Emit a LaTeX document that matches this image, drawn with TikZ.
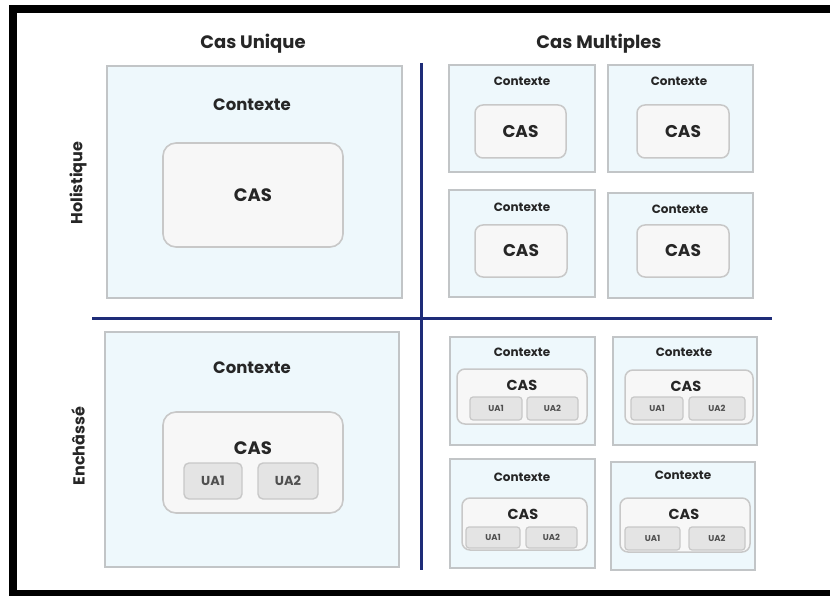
\documentclass[tikz,border=0pt]{standalone}
\usepackage{fontspec}
\setmainfont{Poppins}
\definecolor{ctxfill}{HTML}{EEF8FC}
\definecolor{ctxline}{HTML}{C2C5C7}
\definecolor{casfill}{HTML}{F7F7F7}
\definecolor{casline}{HTML}{C8C8C8}
\definecolor{uafill}{HTML}{E4E4E4}
\definecolor{uatext}{HTML}{505050}
\definecolor{navy}{HTML}{1E2C78}
\definecolor{txt}{HTML}{262626}
\tikzset{
  ctx/.style={draw=ctxline, fill=ctxfill, line width=2pt, rectangle, inner sep=0pt},
  casbox/.style={draw=casline, fill=casfill, line width=1.6pt, rectangle, rounded corners=13pt, inner sep=0pt},
  cassm/.style={draw=casline, fill=casfill, line width=1.5pt, rectangle, rounded corners=8pt, inner sep=0pt},
  uabox/.style={draw=casline, fill=uafill, line width=1.4pt, rectangle, rounded corners=5pt, inner sep=0pt},
  uasm/.style={draw=casline, fill=uafill, line width=1.2pt, rectangle, rounded corners=3pt, inner sep=0pt},
  hdr/.style={font=\fontsize{18}{18}\selectfont\bfseries, text=txt},
  side/.style={font=\fontsize{16}{16}\selectfont\bfseries, text=txt, rotate=90},
  ctxbig/.style={font=\fontsize{16.5}{16.5}\selectfont\bfseries, text=txt},
  ctxsm/.style={font=\fontsize{12}{12}\selectfont\bfseries, text=txt},
  casbig/.style={font=\fontsize{18}{18}\selectfont\bfseries, text=txt},
  cassmt/.style={font=\fontsize{17}{17}\selectfont\bfseries, text=txt},
  casemb/.style={font=\fontsize{14.5}{14.5}\selectfont\bfseries, text=txt},
  uabig/.style={font=\fontsize{13}{13}\selectfont\bfseries, text=uatext},
  uasmt/.style={font=\fontsize{8.5}{8.5}\selectfont\bfseries, text=uatext},
  axis/.style={draw=navy, line width=3pt},
}
\begin{document}
\begin{tikzpicture}[x=1pt, y=-1pt]
\useasboundingbox (0,0) rectangle (830,596);
\fill[white] (0,0) rectangle (830,596);
% black frame
\fill[black] (9,5) rectangle (830,13);
\fill[black] (9,5) rectangle (17,596);
\fill[black] (9,590) rectangle (830,596);

% headers
\node[hdr] (hu) at (253,44) {Cas Unique};
\node[hdr] (hm) at (599,44) {Cas Multiples};
\node[side] (sh) at (78,183) {Holistique};
\node[side] (se) at (78,446) {Enchâssé};

% axes
\coordinate (vt) at (421,63);
\coordinate (vb) at (421,570);
\coordinate (hl) at (92,318);
\coordinate (hr) at (772,318);
\draw[axis] (vt) -- (vb);
\draw[axis] (hl) -- (hr);

% ---- Holistique, cas unique
\node[ctx, minimum width=295, minimum height=232] (c0) at (254.5,182) {};
\node[ctxbig] (c0t) at (252,105) {Contexte};
\node[casbox, minimum width=180, minimum height=104] (k0) at (253,195) {};
\node[casbig] (k0t) at (253,195) {CAS};

% ---- Holistique, cas multiples
\node[ctx, minimum width=146, minimum height=107] (c1) at (522,118.5) {};
\node[ctxsm] (c1t) at (522,81) {Contexte};
\node[cassm, minimum width=91, minimum height=53] (k1) at (520.5,131.5) {};
\node[cassmt] (k1t) at (520.5,131.5) {CAS};

\node[ctx, minimum width=145, minimum height=107] (c2) at (680.5,118.5) {};
\node[ctxsm] (c2t) at (679,81) {Contexte};
\node[cassm, minimum width=92, minimum height=53] (k2) at (683,131.5) {};
\node[cassmt] (k2t) at (683,131.5) {CAS};

\node[ctx, minimum width=146, minimum height=107] (c3) at (522,243.5) {};
\node[ctxsm] (c3t) at (522,207) {Contexte};
\node[cassm, minimum width=92, minimum height=52] (k3) at (521,251) {};
\node[cassmt] (k3t) at (521,251) {CAS};

\node[ctx, minimum width=145, minimum height=105] (c4) at (680.5,245.5) {};
\node[ctxsm] (c4t) at (680,209) {Contexte};
\node[cassm, minimum width=92, minimum height=52] (k4) at (683,251) {};
\node[cassmt] (k4t) at (683,251) {CAS};

% ---- Enchâssé, cas unique
\node[ctx, minimum width=294, minimum height=235] (c5) at (252,449.5) {};
\node[ctxbig] (c5t) at (252,368) {Contexte};
\node[casbox, minimum width=180, minimum height=101] (k5) at (253,462.5) {};
\node[casbig] (k5t) at (253,448) {CAS};
\node[uabox, minimum width=58, minimum height=36] (u51) at (213,481) {};
\node[uabig] at (u51) {UA1};
\node[uabox, minimum width=60, minimum height=36] (u52) at (288,481) {};
\node[uabig] at (u52) {UA2};

% ---- Enchâssé, cas multiples
\node[ctx, minimum width=145, minimum height=108] (c6) at (522.5,391) {};
\node[ctxsm] (c6t) at (522,352) {Contexte};
\node[cassm, minimum width=130, minimum height=55] (k6) at (522,396.5) {};
\node[casemb] (k6t) at (522,385) {CAS};
\node[uasm, minimum width=52, minimum height=23] (u61) at (496,408.5) {};
\node[uasmt] at (u61) {UA1};
\node[uasm, minimum width=51, minimum height=23] (u62) at (552.5,408.5) {};
\node[uasmt] at (u62) {UA2};

\node[ctx, minimum width=144, minimum height=108] (c7) at (685,391) {};
\node[ctxsm] (c7t) at (684,352) {Contexte};
\node[cassm, minimum width=128, minimum height=54] (k7) at (689,397) {};
\node[casemb] (k7t) at (686,386) {CAS};
\node[uasm, minimum width=52, minimum height=23] (u71) at (657,408.5) {};
\node[uasmt] at (u71) {UA1};
\node[uasm, minimum width=56, minimum height=23] (u72) at (717,408.5) {};
\node[uasmt] at (u72) {UA2};

\node[ctx, minimum width=145, minimum height=109] (c8) at (522.5,513.5) {};
\node[ctxsm] (c8t) at (522,477) {Contexte};
\node[cassm, minimum width=125, minimum height=52] (k8) at (524.5,524) {};
\node[casemb] (k8t) at (523,514) {CAS};
\node[uasm, minimum width=54, minimum height=21] (u81) at (493,537.5) {};
\node[uasmt] at (u81) {UA1};
\node[uasm, minimum width=51, minimum height=21] (u82) at (551.5,537.5) {};
\node[uasmt] at (u82) {UA2};

\node[ctx, minimum width=144, minimum height=108] (c9) at (683,516) {};
\node[ctxsm] (c9t) at (683,475) {Contexte};
\node[cassm, minimum width=130, minimum height=54] (k9) at (685,525) {};
\node[casemb] (k9t) at (684,514) {CAS};
\node[uasm, minimum width=55, minimum height=23] (u91) at (652.5,538.5) {};
\node[uasmt] at (u91) {UA1};
\node[uasm, minimum width=56, minimum height=23] (u92) at (717,538.5) {};
\node[uasmt] at (u92) {UA2};
\end{tikzpicture}
\end{document}
